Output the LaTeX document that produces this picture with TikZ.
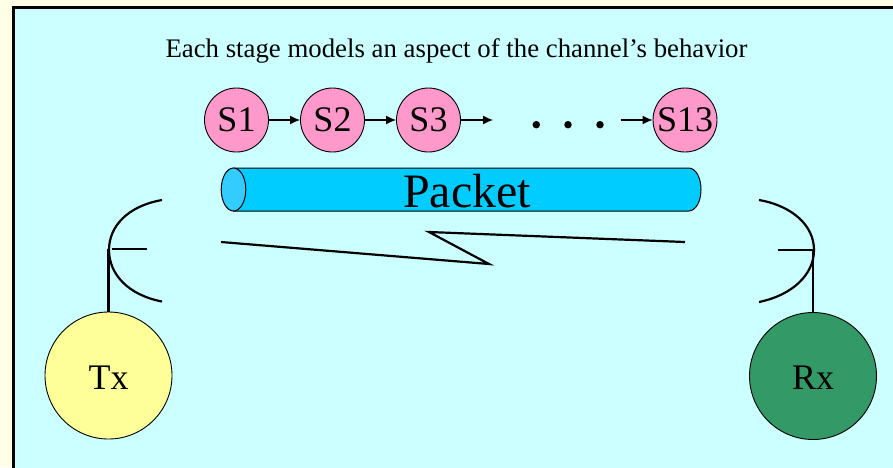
\documentclass[tikz,border=0pt]{standalone}
\usepackage{fontspec}
\setmainfont{Liberation Serif}
\usetikzlibrary{arrows.meta}
\definecolor{pagebg}{HTML}{FFFFE5}
\definecolor{panel}{HTML}{CCFFFF}
\definecolor{stagepink}{HTML}{FF99CC}
\definecolor{pipeblue}{HTML}{00CCFF}
\definecolor{capblue}{HTML}{33CCFF}
\definecolor{txyellow}{HTML}{FFFF99}
\definecolor{rxgreen}{HTML}{339966}
\tikzset{
  stagenode/.style={circle,draw=black,line width=0.9pt,fill=stagepink,minimum size=64pt,inner sep=0pt,font=\fontsize{36}{36}\selectfont},
  endnode/.style={circle,draw=black,line width=0.9pt,minimum size=127pt,inner sep=0pt,font=\fontsize{36}{36}\selectfont},
  flow/.style={line width=1.1pt,-{Latex[length=10pt,width=9pt]}},
  heavy/.style={line width=2.2pt},
  dotmark/.style={circle,fill=black,minimum size=7.5pt,inner sep=0pt}
}
\begin{document}
\begin{tikzpicture}[x=1pt,y=-1pt]
\useasboundingbox (0,0) rectangle (893,467);
\fill[pagebg] (0,0) rectangle (893,467);
\filldraw[fill=panel,draw=black,line width=3pt] (13.5,7.5) rectangle (900,480);
\node[font=\fontsize{26.8}{27}\selectfont] (title) at (456.5,50.5) {Each stage models an aspect of the channel’s behavior};
\node[stagenode] (s1) at (236.5,120) {S1};
\node[stagenode] (s2) at (332.5,120) {S2};
\node[stagenode] (s3) at (428.5,120) {S3};
\node[stagenode] (s13) at (685,120) {S13};
\coordinate (s3end) at (493,120);
\coordinate (s13start) at (620.5,120);
\draw[flow] (s1) -- (s2);
\draw[flow] (s2) -- (s3);
\draw[flow] (s3) -- (s3end);
\draw[flow] (s13start) -- (s13);
\node[dotmark] (d1) at (536.3,124.7) {};
\node[dotmark] (d2) at (568,124.7) {};
\node[dotmark] (d3) at (600,124.7) {};
% packet cylinder
\filldraw[fill=pipeblue,draw=black,line width=1pt] (233.5,168) -- (688.5,168)
  .. controls (696,168) and (701,178) .. (701,189.5)
  .. controls (701,201) and (696,211) .. (688.5,211) -- (233.5,211) -- cycle;
\filldraw[fill=capblue,draw=black,line width=1pt] (233.5,189.5) ellipse [x radius=12.3,y radius=21.5];
\node[font=\fontsize{48}{48}\selectfont] (packet) at (467,191) {Packet};
% lightning
\draw[line width=2.2pt,miter limit=10] (221,242) -- (489,264) -- (429,232) -- (685,242);
% antennas
\draw[heavy] (162,200) .. controls (128,206) and (109,226) .. (109,250) .. controls (109,274) and (128,295) .. (162,301.5);
\draw[heavy] (759,200) .. controls (793,206) and (814,226) .. (814,250) .. controls (814,274) and (793,295) .. (759,302);
\node[endnode,fill=txyellow] (tx) at (108.5,375.5) {\raisebox{-2pt}[\height][0pt]{Tx}};
\node[endnode,fill=rxgreen] (rx) at (813,376) {\raisebox{-2pt}[\height][0pt]{Rx}};
\coordinate (txtop) at (108.5,249);
\coordinate (rxtop) at (813,250);
\coordinate (txdisha) at (112,249);
\coordinate (txdishb) at (147,249);
\coordinate (rxdisha) at (777.5,250.2);
\coordinate (rxdishb) at (814,250.2);
\draw[heavy] (tx) -- (txtop);
\draw[heavy] (rx) -- (rxtop);
\draw[heavy] (txdisha) -- (txdishb);
\draw[heavy] (rxdisha) -- (rxdishb);
\end{tikzpicture}
\end{document}
